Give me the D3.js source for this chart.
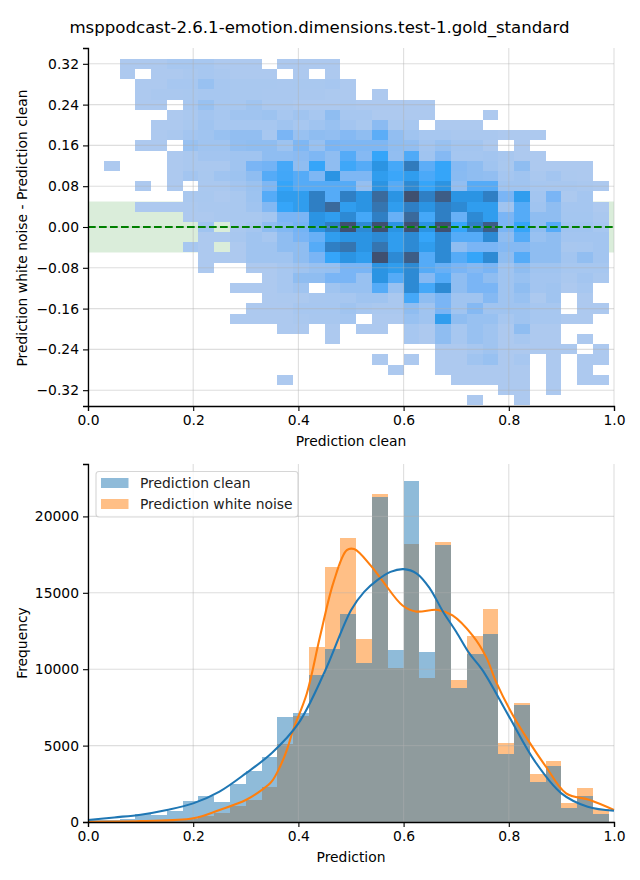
<!DOCTYPE html>
<html><head><meta charset="utf-8">
<script src="https://cdnjs.cloudflare.com/ajax/libs/d3/7.8.5/d3.min.js"></script>
<style>html,body{margin:0;padding:0;background:#fff}svg{display:block}text{font-family:"DejaVu Sans",sans-serif;fill:#000}</style>
</head><body><svg id="c" width="640" height="880"></svg>
<script>
const chartTitle = "msppodcast-2.6.1-emotion.dimensions.test-1.gold_standard";
const binX = 0.03, binY = 0.02, topEdge = 0.33;
const xTicks = [0, 0.2, 0.4, 0.6, 0.8, 1.0];
const diffTicks = [0.32, 0.24, 0.16, 0.08, 0, -0.08, -0.16, -0.24, -0.32];
const freqTicks = [0, 5000, 10000, 15000, 20000];
const bandLimit = 0.05;
// density level of each heatmap row (top to bottom), 33 columns, 0 = empty
const r00=[0,0,1,1,1,1.5,1.5,1.5,1,1,1,0,1,1,1,1,0,0,0,0,0,0,0,0,0,0,0,0,0,0,0,0,0];
const r01=[0,0,1,0,1,1,1.2,1.5,1.2,1,1,1,0,1,0,1,0,0,0,0,0,0,0,0,0,0,0,0,0,0,0,0,0];
const r02=[0,0,0,1,1,1.5,1.5,2.5,1.5,1.3,1.3,1.3,1.2,1.3,1.3,1.5,1,0,0,0,0,0,0,0,0,0,0,0,0,0,0,0,0];
const r03=[0,0,0,1,1.2,1.2,1.3,1.5,1.5,1.3,1.3,1.2,1.2,1.2,1.2,1.1,1,0,1,0,0,0,0,0,0,0,0,0,0,0,0,0,0];
const r04=[0,0,0,1,1,0,1.5,2.5,1.5,1.5,2,1.2,1.2,1,1,1,1.2,1,1,1,1,1,0,0,0,0,0,0,0,0,0,0,0];
const r05=[0,0,0,0,0,1,1.2,1.8,1.5,2,2,2.2,1.5,2,1.5,3,1.5,1.5,1,1,1,1,0,0,0,1,0,0,0,0,0,0,0];
const r06=[0,0,0,0,1,1,1.3,2,1.5,1.5,1.5,1.5,2,1.5,2,2.5,1.8,1.3,3.2,1.3,1.5,0,1,1,1,0,0,0,0,0,0,0,0];
const r07=[0,0,0,0,1,1.2,1.8,2,2.5,2.8,2.8,1.5,4,2.5,3,2.8,3.5,3,4.8,2.8,2,1.5,1.5,1.2,1.2,1.2,1,1,1,0,0,0,0];
const r08=[0,0,0,1,1,0,2.5,2,2,2.8,3,3,2.2,3.8,2.5,4,3.8,3.8,3.8,3,2.8,1.8,2.5,1.8,1.8,1,0,1,0,0,0,0,0];
const r09=[0,0,0,0,0,1,1.2,1.8,1.8,2,2,3,3,3.2,3.8,3,5,3.5,6,2.8,5.2,2,3.5,1.6,1.6,1.8,1.4,1,1,0,0,0,0];
const r10=[0,1,0,0,0,1,1.2,1.2,1.2,2,4,4.2,5.5,3,6,3,5.7,5,7,5.5,8.2,4.8,6,3.4,3,2,1.3,3,1,1,1,1,0];
const r11=[0,0,0,0,0,1,1.8,1.3,2,2.2,3,5,5.6,5,3.8,7,3.8,3.8,6.5,5.8,6.5,5.3,6,3.3,3,2.8,1.6,2,1.2,1.8,1.1,1,0];
const r12=[0,0,0,1,0,1,0,1.2,1.2,1.8,2.3,3.8,6,5,5,5,5,2.7,7,5,7.5,6,7,2.8,5,5,2,2,1.5,1.4,1.4,1.2,1];
const r13=[0,0,0,0,0,0,1.2,1.3,1,1.3,2.2,5,6.5,6.5,8,5,8,7,9,7,10,8,9.5,7,7,8,4,6.5,1.8,4,1.1,1.6,0];
const r14=[0,0,0,1,1,1,1.1,1.2,1.2,1.3,2,3.6,6,6.5,8,9,6.5,7,8.5,6.5,8,7,8,7.5,6.5,6.5,2,5,2,3,1.6,1.6,1];
const r15=[0,0,0,0,0,0,1,1,1.2,1.3,1.3,1.7,4,4,7,6.5,7.5,5.5,8,4.5,9,5.5,8,4.5,7.5,6.5,4,5,3,3,1.7,1.7,1.2];
const r16=[0,0,0,0,0,0,0,2,0,1.2,1.6,3,3.6,4.2,7,8,10,7.5,10,7,10,7,10,6,8,9.5,4,6,3,5,2,2,1.5];
const r17=[0,0,0,0,0,0,0,1,1,1.4,2,1.5,3,4,4.5,6.5,7,7,7.5,6.5,7.5,6,7.5,5,5,7.5,3,5,2.5,3,1.8,1.8,1.8];
const r18=[0,0,0,0,0,0,1.5,1,0,1,2,2,3,3,5,8,8.5,7,8.5,6.5,7.5,6.5,7.5,3,4,4,3.5,3.5,3,3,1.4,1.5,1.8];
const r19=[0,0,0,0,0,0,0,1,1,1,2,2,2,3,4,6,7,6.5,10,7.5,9.5,5,7.5,5,6,7.5,3,5,3,3,1.8,2.8,1.8];
const r20=[0,0,0,0,0,0,0,1,0,0,1,1,1.5,2,2.5,2.6,4,4,7,6.5,7.5,5,4.5,4,3.5,4,2,3,2,2,1.5,1.5,1.5];
const r21=[0,0,0,0,0,0,0,0,0,0,0,1,1.5,3,3,4,4,2.5,7,5,7.5,3.5,5,3,4,3,2,2.5,1.8,1.8,1.2,1.8,1.2];
const r22=[0,0,0,0,0,0,0,0,0,1,1,1,1.5,2,0,2,2.5,2.5,5,2.5,7.5,5.5,7.5,3,4,4,2,3,1.8,2,1,1.5,0];
const r23=[0,0,0,0,0,0,0,0,0,0,0,1,1.1,1.1,1.4,1.5,1.5,2,2,1.2,5.5,3,4,2,2,3.5,2,2.5,1.1,2,0,1,0];
const r24=[0,0,0,0,0,0,0,0,0,0,1,1,1,1.5,1.5,1.5,2,1.5,1.2,1.2,3,2,4,2,3.5,2,2,2,1.5,1.5,0,1,1];
const r25=[0,0,0,0,0,0,0,0,0,1,1,1,1,1.2,1.4,1.4,1.6,0,1,1,2.5,2,6.5,3,2.5,2.5,1.5,2,1.5,1.5,1,1,0];
const r26=[0,0,0,0,0,0,0,0,0,0,0,0,1,1,0,1,0,1,1,0,1.5,1,3,1.5,2.5,2,1,3,1,1,0,0,0];
const r27=[0,0,0,0,0,0,0,0,0,0,0,0,0,0,0,1,0,0,0,0,1.5,1,3,1.5,2.5,2,1,1.5,1,1,0,1,0];
const r28=[0,0,0,0,0,0,0,0,0,0,0,0,0,0,0,0,0,0,0,0,0,0,1,1,1.5,2,1,1,1,1,1,0,1];
const r29=[0,0,0,0,0,0,0,0,0,0,0,0,0,0,0,0,0,0,1,0,1,0,1,1,2,2.5,1,1.5,0,1,0,1,1];
const r30=[0,0,0,0,0,0,0,0,0,0,0,0,0,0,0,0,0,0,0,1,0,0,1,1,1,1,1,1,0,1,0,1,0];
const r31=[0,0,0,0,0,0,0,0,0,0,0,0,1,0,0,0,0,0,0,0,0,0,0,1,1,1,1,1,0,1,0,1,1];
const r32=[0,0,0,0,0,0,0,0,0,0,0,0,0,0,0,0,0,0,0,0,0,0,0,0,0,0,1,1,0,1,0,0,0];
const r33=[0,0,0,0,0,0,0,0,0,0,0,0,0,0,0,0,0,0,0,0,0,0,0,0,1,0,0,1,0,0,0,0,0];
const heatRows=[r00,r01,r02,r03,r04,r05,r06,r07,r08,r09,r10,r11,r12,r13,r14,r15,r16,r17,r18,r19,r20,r21,r22,r23,r24,r25,r26,r27,r28,r29,r30,r31,r32,r33];
const levelStops=[1,2,3,4,5,6,7,8,9,10];
const levelColors=["#adc9ef","#a0c4f0","#8fbdf1","#7ab5f5","#55abf7","#35a5f9","#2b94e3","#2f7fc4","#3a6a9c","#3f5070"];
const cleanCounts=[120,150,220,500,460,740,1370,1700,1300,2480,3340,4250,6870,7130,9610,11310,13600,10400,21250,11250,22300,11120,18110,8760,10990,12300,4450,7650,2620,3660,920,1700,520];
const noiseCounts=[30,40,50,60,70,120,200,400,600,1070,1440,2300,5100,6930,11440,16670,18570,11970,21450,10070,18180,9420,18310,9290,12160,13930,5170,7780,3140,3990,1240,2220,850];
const cleanKdeX=[0,.05,.1,.15,.2,.25,.3,.35,.4,.45,.5,.525,.55,.575,.6,.625,.65,.675,.7,.725,.75,.8,.85,.9,.95,1];
const cleanKdeY=[130,300,480,790,1220,1990,3180,4530,6450,9830,13860,15060,15830,16370,16550,16260,15280,13760,12450,11030,9940,6930,3950,1875,1000,740];
const noiseKdeX=[0,.1,.2,.25,.3,.33,.349,.365,.378,.39,.416,.441,.467,.492,.506,.538,.56,.598,.623,.665,.693,.731,.757,.776,.808,.839,.871,.909,.954,1];
const noiseKdeY=[20,60,240,790,1440,2090,2640,3620,4710,6020,8410,12120,15720,17790,17860,16760,15780,14170,13780,13880,13520,12210,10790,9150,6970,5230,3600,1875,1440,790];
const legendNames=["Prediction clean","Prediction white noise"];
const cleanColor="#1f77b4", noiseColor="#ff7f0e";

const svg=d3.select("#c");
const L=88,R=614,FS=13.89;
const gridC="rgba(176,176,176,0.42)";
const xTop=d3.scaleLinear().domain([0,1]).range([L,R]);
const yTop=d3.scaleLinear().domain([0.351,-0.351]).range([48,406]);
const yBot=d3.scaleLinear().domain([0,23430]).range([822,464]);
const heatColor=d3.scaleLinear().domain(levelStops).range(levelColors);

svg.append("text").attr("x",319.5).attr("y",33).attr("text-anchor","middle").style("font-size","16.6px").text(chartTitle);

// top panel
const topG=svg.append("g");
topG.append("rect").attr("x",xTop(0)).attr("width",xTop(1)-xTop(0))
  .attr("y",yTop(bandLimit)).attr("height",yTop(-bandLimit)-yTop(bandLimit))
  .attr("fill","rgba(0,128,0,0.145)");
heatRows.forEach((row,k)=>{
  topG.append("g").selectAll("rect").data(row.map((v,i)=>({v,i})).filter(d=>d.v>0)).join("rect")
    .attr("x",d=>xTop(d.i*binX)).attr("width",d=>xTop((d.i+1)*binX)-xTop(d.i*binX))
    .attr("y",yTop(topEdge-k*binY)).attr("height",yTop(topEdge-(k+1)*binY)-yTop(topEdge-k*binY))
    .attr("fill",d=>heatColor(d.v)).attr("shape-rendering","crispEdges");
});
function grid(g,x,y,xt,yt,y0,y1){
  g.append("g").selectAll("line").data(xt).join("line").attr("x1",d=>x(d)).attr("x2",d=>x(d)).attr("y1",y0).attr("y2",y1).attr("stroke",gridC).attr("stroke-width",1.1);
  g.append("g").selectAll("line").data(yt).join("line").attr("x1",L).attr("x2",R).attr("y1",d=>y(d)).attr("y2",d=>y(d)).attr("stroke",gridC).attr("stroke-width",1.1);
}
grid(topG,xTop,yTop,xTicks,diffTicks,48,406);
topG.append("line").attr("x1",xTop(0)).attr("x2",xTop(1)).attr("y1",yTop(0)).attr("y2",yTop(0))
  .attr("stroke","#008000").attr("stroke-width",2.08).attr("stroke-dasharray","7.7 3.3");

function axes(g,x,y,xt,yt,bottom,yFmt){
  const ax=g.append("g").attr("transform",`translate(0,${bottom})`).call(d3.axisBottom(x).tickValues(xt).tickSize(5).tickPadding(4).tickFormat(d3.format(".1f")));
  const ay=g.append("g").attr("transform",`translate(${L},0)`).call(d3.axisLeft(y).tickValues(yt).tickSize(5).tickPadding(4).tickFormat(yFmt));
  [ax,ay].forEach(a=>{a.selectAll("text").style("font-size",FS+"px").style("font-family",'"DejaVu Sans"');
    a.selectAll("line").attr("stroke","#000").attr("stroke-width",1.1);
    a.select(".domain").attr("stroke","#000").attr("stroke-width",1.3);});
}
axes(topG,xTop,yTop,xTicks,diffTicks,406,d3.format(".2f"));
svg.append("text").attr("x",351).attr("y",446).attr("text-anchor","middle").style("font-size",FS+"px").text("Prediction clean");
svg.append("text").attr("transform","translate(27,228) rotate(-90)").attr("text-anchor","middle").style("font-size",FS+"px").text("Prediction white noise - Prediction clean");

// bottom panel
const bot=svg.append("g");
function bars(vals,color){
  bot.append("g").selectAll("rect").data(vals).join("rect")
    .attr("x",(d,i)=>xTop(i*binX)).attr("width",(d,i)=>xTop((i+1)*binX)-xTop(i*binX))
    .attr("y",d=>yBot(d)).attr("height",d=>yBot(0)-yBot(d))
    .attr("fill",color).attr("fill-opacity",0.5).attr("shape-rendering","crispEdges");
}
bars(noiseCounts,noiseColor);
bars(cleanCounts,cleanColor);
grid(bot,xTop,yBot,xTicks,freqTicks,464,822);
function kde(xs,ys,color){
  const ln=d3.line().x(d=>xTop(d[0])).y(d=>yBot(d[1])).curve(d3.curveCatmullRom.alpha(0.5));
  bot.append("path").attr("d",ln(d3.zip(xs,ys))).attr("fill","none").attr("stroke",color).attr("stroke-width",2.08);
}
kde(noiseKdeX,noiseKdeY,noiseColor);
kde(cleanKdeX,cleanKdeY,cleanColor);
axes(bot,xTop,yBot,xTicks,freqTicks,822,d3.format("d"));
svg.append("text").attr("x",351).attr("y",862).attr("text-anchor","middle").style("font-size",FS+"px").text("Prediction");
svg.append("text").attr("transform","translate(27,643) rotate(-90)").attr("text-anchor","middle").style("font-size",FS+"px").text("Frequency");

// legend
const leg=svg.append("g");
leg.append("rect").attr("x",96).attr("y",471.5).attr("width",202).attr("height",45.5).attr("rx",3)
  .attr("fill","rgba(255,255,255,0.8)").attr("stroke","rgba(204,204,204,0.8)").attr("stroke-width",1.1);
[[cleanColor,478],[noiseColor,499]].forEach(([c,y],i)=>{
  leg.append("rect").attr("x",101).attr("y",y).attr("width",27.5).attr("height",10).attr("fill",c).attr("fill-opacity",0.5);
  leg.append("text").attr("x",140).attr("y",y+10).style("font-size",FS+"px").style("fill","#222").text(legendNames[i]);
});
</script></body></html>
